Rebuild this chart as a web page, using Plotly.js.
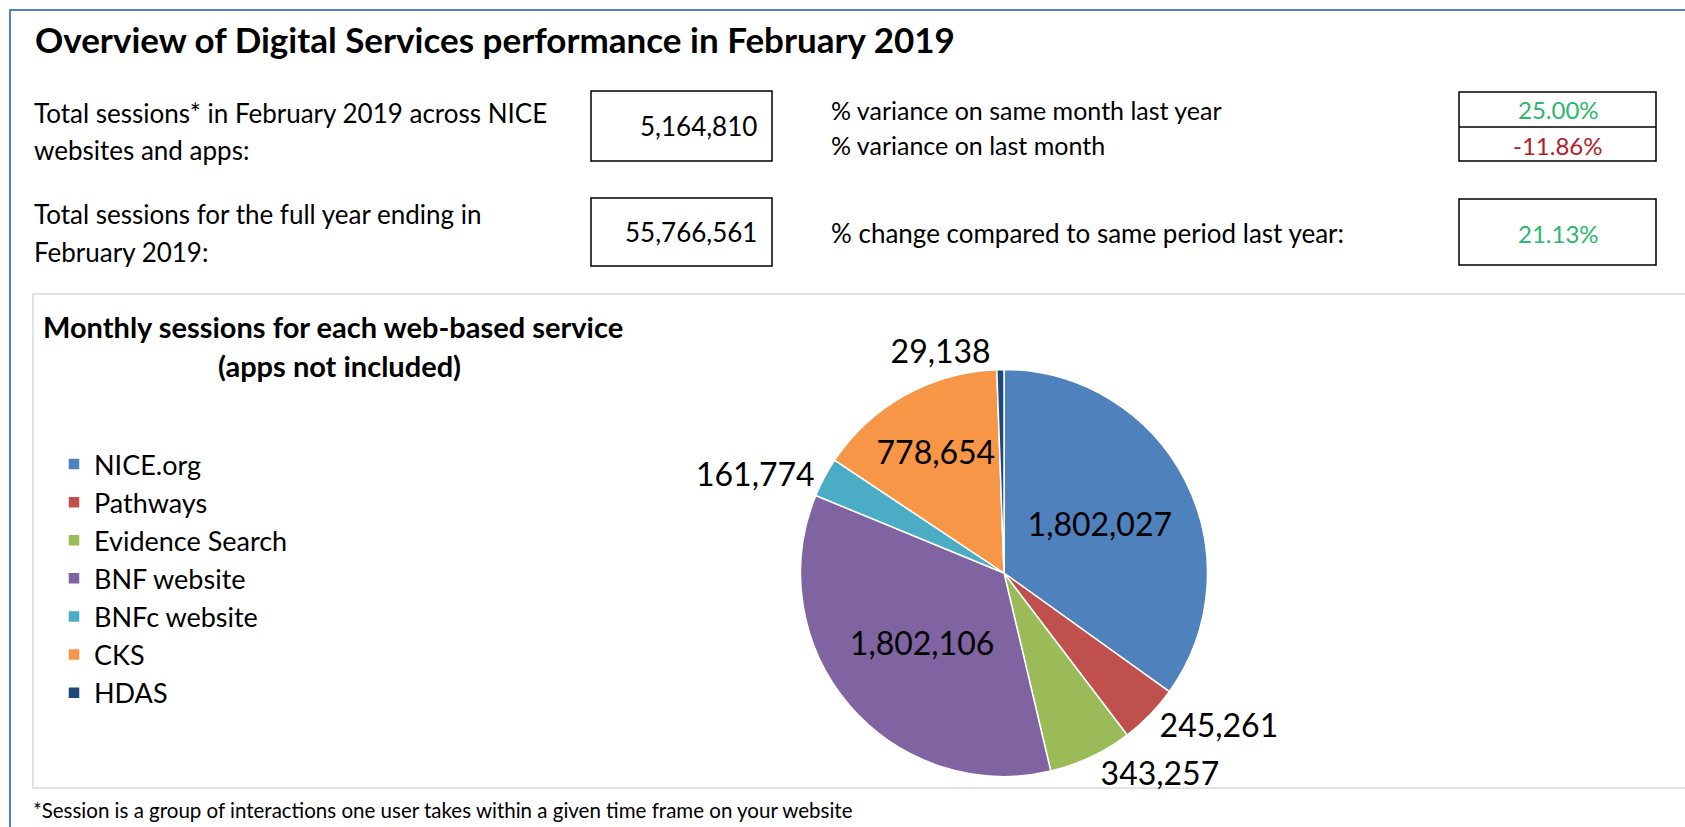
<!DOCTYPE html>
<html>
<head>
<meta charset="utf-8">
<script src="https://cdn.plot.ly/plotly-3.0.1.min.js"></script>
<style>
  html, body { margin: 0; padding: 0; background: #ffffff; }
  #chart { width: 1685px; height: 827px; }
</style>
</head>
<body>
<div id="chart"></div>
<script>
// ---------- data ----------
const services = ['NICE.org', 'Pathways', 'Evidence Search', 'BNF website', 'BNFc website', 'CKS', 'HDAS'];
const sessions = [1802027, 245261, 343257, 1802106, 161774, 778654, 29138];
const sliceColors = ['#4F81BD', '#C0504D', '#9BBB59', '#8064A2', '#4BACC6', '#F79646', '#1F497D'];
const labelPlacement = ['inside', 'outside', 'outside', 'inside', 'outside', 'inside', 'outside'];

const totalLabels = ['Total sessions* in February 2019 across NICE', 'websites and apps:',
                     'Total sessions for the full year ending in', 'February 2019:'];
const totalValues = ['5,164,810', '55,766,561'];
const varianceLabels = ['% variance on same month last year', '% variance on last month',
                        '% change compared to same period last year:'];
const varianceValues = ['25.00%', '-11.86%', '21.13%'];
const varianceColors = ['#2BB86A', '#B0202A', '#2BB86A'];

const pageTitle = 'Overview of Digital Services performance in February 2019';
const chartTitle = ['Monthly sessions for each web-based service', '(apps not included)'];
const footnote = '*Session is a group of interactions one user takes within a given time frame on your website';

// ---------- layout helpers ----------
const W = 1685, H = 827;
const FONT = 'Lato, "Open Sans", sans-serif';
const X = v => v / W;
const Y = v => 1 - v / H;

function txt(text, x, y, size, extra) {
  return Object.assign({
    text: text, x: X(x), y: Y(y), xref: 'paper', yref: 'paper',
    showarrow: false, xanchor: 'left', yanchor: 'middle',
    font: { family: FONT, size: size, color: '#000000' }
  }, extra || {});
}
function rect(x0, y0, x1, y1, color, width) {
  return { type: 'rect', xref: 'paper', yref: 'paper',
    x0: X(x0), x1: X(x1), y0: Y(y1), y1: Y(y0),
    line: { color: color, width: width }, fillcolor: 'rgba(0,0,0,0)', layer: 'below' };
}
function hline(x0, x1, y, color, width) {
  return { type: 'line', xref: 'paper', yref: 'paper',
    x0: X(x0), x1: X(x1), y0: Y(y), y1: Y(y), line: { color: color, width: width } };
}

const shapes = [
  rect(10, 10, 1720, 860, '#4F81C6', 2),
  rect(33, 294, 1720, 788, '#D9D9D9', 1.5),
  rect(591, 91, 772, 161, '#000000', 1.5),
  rect(591, 198, 772, 266, '#000000', 1.5),
  rect(1459, 92, 1656, 161, '#000000', 1.5),
  hline(1459, 1656, 127, '#000000', 1.5),
  rect(1459, 199, 1656, 265, '#000000', 1.5)
];

const BODY = 26;
const annotations = [
  txt('<b>' + pageTitle + '</b>', 33, 39, 35),
  txt(totalLabels[0], 32, 113, BODY),
  txt(totalLabels[1], 32, 150, BODY),
  txt(totalLabels[2], 32, 214, BODY),
  txt(totalLabels[3], 32, 252, BODY),
  txt(totalValues[0], 759, 126, BODY, { xanchor: 'right' }),
  txt(totalValues[1], 759, 232, BODY, { xanchor: 'right' }),
  txt(varianceLabels[0], 829, 110, 25),
  txt(varianceLabels[1], 829, 145, 25),
  txt(varianceLabels[2], 829, 233, BODY),
  txt(varianceValues[0], 1558, 110, 24, { xanchor: 'center', font: { family: FONT, size: 24, color: varianceColors[0] } }),
  txt(varianceValues[1], 1558, 145, 24, { xanchor: 'center', font: { family: FONT, size: 24, color: varianceColors[1] } }),
  txt(varianceValues[2], 1558, 233, 24, { xanchor: 'center', font: { family: FONT, size: 24, color: varianceColors[2] } }),
  txt('<b>' + chartTitle[0] + '</b>', 41, 326, 29),
  txt('<b>' + chartTitle[1] + '</b>', 339, 365, 29, { xanchor: 'center' }),
  txt(footnote, 31, 810, 20.5)
];

const trace = {
  type: 'pie',
  labels: services,
  values: sessions,
  sort: false,
  direction: 'clockwise',
  rotation: 0,
  marker: { colors: sliceColors, line: { color: '#ffffff', width: 1.5 } },
  textposition: labelPlacement,
  texttemplate: '%{value:,.0f}',
  insidetextorientation: 'horizontal',
  insidetextfont: { family: FONT, size: 32, color: '#000000' },
  outsidetextfont: { family: FONT, size: 32, color: '#000000' },
  hoverinfo: 'label+value',
  domain: { x: [X(800.5), X(1207.5)], y: [Y(776.5), Y(369.5)] }
};

const layout = {
  width: W, height: H,
  margin: { l: 0, r: 0, t: 0, b: 0 },
  paper_bgcolor: '#ffffff',
  showlegend: true,
  legend: {
    x: X(54), y: Y(440), xanchor: 'left', yanchor: 'top',
    font: { family: FONT, size: 27, color: '#000000' },
    bgcolor: 'rgba(0,0,0,0)', traceorder: 'normal'
  },
  shapes: shapes,
  annotations: annotations
};

Plotly.newPlot('chart', [trace], layout, { displayModeBar: false, staticPlot: true }).then(function (gd) {
  gd.querySelectorAll('.pielayer path.textline').forEach(function (p) {
    p.style.stroke = '#A6A6A6';
    p.style.strokeWidth = '1.5px';
  });
});
</script>
</body>
</html>
